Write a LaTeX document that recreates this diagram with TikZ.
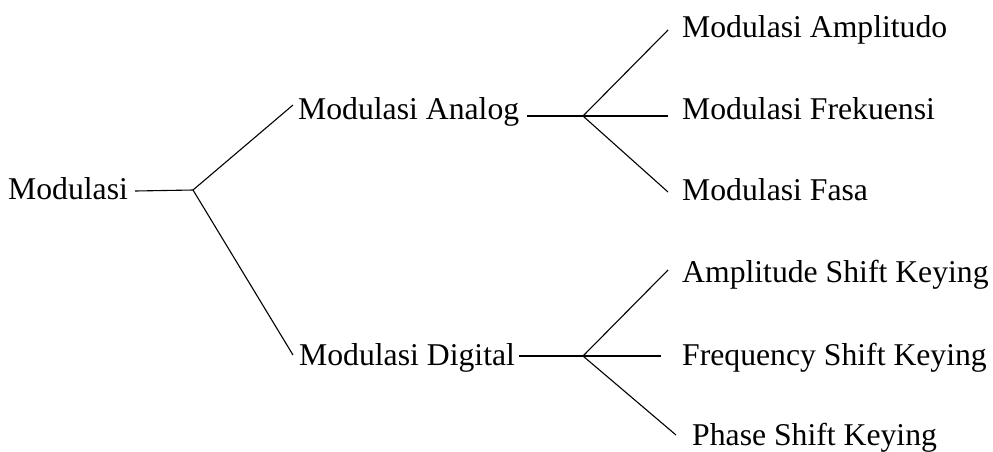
\documentclass[tikz,border=0pt]{standalone}
\usepackage{fontspec}
\setmainfont{Liberation Serif}
\begin{document}
\begin{tikzpicture}[x=1pt,y=-1pt,
  lbl/.style={anchor=base west,inner sep=0pt,font=\fontsize{31.7}{38}\selectfont},
  conn/.style={line width=1.1pt,black}]
\useasboundingbox (0,0) rectangle (993,451);
% texts
\node[lbl] (m) at (8,199) {Modulasi};
\node[lbl] (a) at (298,119) {Modulasi Analog};
\node[lbl] (d) at (299,365) {Modulasi Digital};
\node[lbl] (a1) at (682,37) {Modulasi Amplitudo};
\node[lbl] (a2) at (682,119) {Modulasi Frekuensi};
\node[lbl] (a3) at (682,200) {Modulasi Fasa};
\node[lbl] (d1) at (682,282) {Amplitude Shift Keying};
\node[lbl] (d2) at (682,365) {Frequency Shift Keying};
\node[lbl] (d3) at (692,445) {Phase Shift Keying};
% connector points
\coordinate (ms) at (135,191);
\coordinate (j0) at (193,190);
\coordinate (ae) at (293,105);
\coordinate (de) at (293,355);
\coordinate (as) at (527,116);
\coordinate (ja) at (583,116);
\coordinate (a1e) at (668,30);
\coordinate (a2e) at (668,116);
\coordinate (a3e) at (668,192);
\coordinate (ds) at (519,356);
\coordinate (jd) at (583,356);
\coordinate (d1e) at (668,270);
\coordinate (d2e) at (661,356);
\coordinate (d3e) at (676,435);
% connectors
\draw[conn] (ms) -- (j0);
\draw[conn] (j0) -- (ae);
\draw[conn] (j0) -- (de);
\draw[conn] (as) -- (ja);
\draw[conn] (ja) -- (a1e);
\draw[conn] (ja) -- (a2e);
\draw[conn] (ja) -- (a3e);
\draw[conn] (ds) -- (jd);
\draw[conn] (jd) -- (d1e);
\draw[conn] (jd) -- (d2e);
\draw[conn] (jd) -- (d3e);
\end{tikzpicture}
\end{document}
